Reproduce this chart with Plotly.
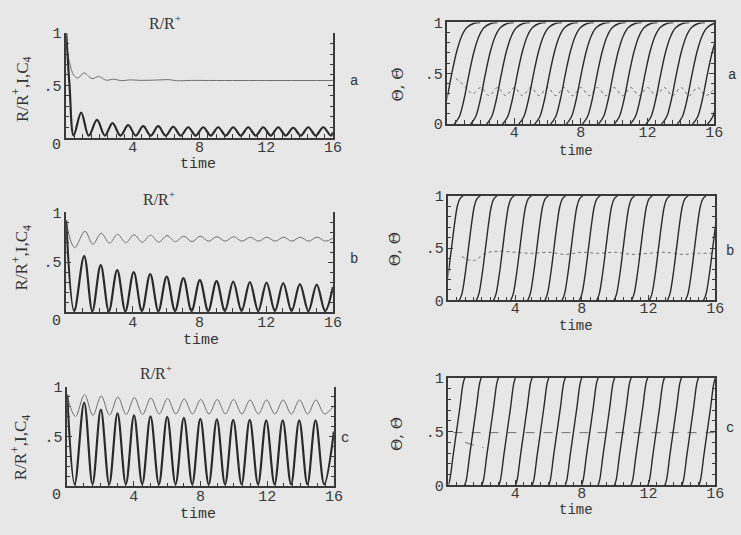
import plotly.graph_objects as go

# ---------------- data ----------------
time_ticks = [4, 8, 12, 16]
time_tick_text = ["4", "8", "12", "16"]

# Left column: normalised current I and C4 versus time, (t, value) samples
a_current = [(0.0, 1.0), (0.2, 0.5), (0.45, 0.02), (0.9, 0.24), (1.35, 0.02), (1.85, 0.17),
             (2.32, 0.02), (2.78, 0.14), (3.25, 0.02), (3.72, 0.12), (4.17, 0.02), (4.62, 0.11),
             (5.07, 0.02), (5.52, 0.11), (5.97, 0.02), (6.42, 0.105), (6.87, 0.02), (7.32, 0.10),
             (7.77, 0.02), (8.22, 0.10), (8.67, 0.02), (9.12, 0.10), (9.57, 0.02), (10.02, 0.10),
             (10.47, 0.02), (10.92, 0.10), (11.37, 0.02), (11.82, 0.10), (12.27, 0.02), (12.72, 0.10),
             (13.17, 0.02), (13.62, 0.095), (14.07, 0.02), (14.52, 0.10), (14.97, 0.02), (15.42, 0.10),
             (15.87, 0.02), (16.0, 0.05)]
a_c4 = [(0.0, 0.92), (0.2, 0.72), (0.45, 0.60), (0.7, 0.57), (1.07, 0.62), (1.55, 0.565),
        (1.95, 0.585), (2.4, 0.55), (2.85, 0.56), (3.3, 0.545), (3.8, 0.553), (4.5, 0.548),
        (5.5, 0.552), (6.2, 0.555), (6.6, 0.545), (7.5, 0.548), (9.0, 0.547), (11.0, 0.547),
        (13.0, 0.547), (16.0, 0.547)]

b_current = [(0.0, 0.92), (0.48, 0.01), (1.08, 0.56), (1.57, 0.01), (2.07, 0.47), (2.56, 0.01),
             (3.06, 0.42), (3.55, 0.01), (4.05, 0.40), (4.54, 0.01), (5.04, 0.38), (5.53, 0.01),
             (6.03, 0.355), (6.53, 0.01), (7.03, 0.34), (7.52, 0.01), (8.02, 0.32), (8.52, 0.01),
             (9.02, 0.31), (9.52, 0.01), (10.02, 0.305), (10.52, 0.01), (11.02, 0.30), (11.52, 0.01),
             (12.02, 0.295), (12.52, 0.01), (13.02, 0.29), (13.52, 0.01), (14.02, 0.28), (14.53, 0.01),
             (15.03, 0.275), (15.53, 0.01), (16.0, 0.25)]
b_c4 = [(0.0, 0.90), (0.5, 0.645), (1.12, 0.81), (1.6, 0.68), (2.1, 0.79), (2.6, 0.69),
        (3.08, 0.78), (3.57, 0.695), (4.07, 0.775), (4.56, 0.70), (5.06, 0.77), (5.55, 0.70),
        (6.05, 0.765), (6.55, 0.705), (7.05, 0.76), (7.55, 0.705), (8.04, 0.76), (8.54, 0.71),
        (9.04, 0.755), (9.54, 0.71), (10.04, 0.755), (10.54, 0.71), (11.04, 0.75), (11.54, 0.71),
        (12.04, 0.75), (12.54, 0.71), (13.04, 0.75), (13.54, 0.71), (14.04, 0.75), (14.54, 0.71),
        (15.05, 0.75), (15.55, 0.71), (16.0, 0.74)]

c_current = [(0.0, 0.92), (0.45, 0.02), (1.02, 0.84), (1.52, 0.02), (2.02, 0.77), (2.52, 0.02),
             (3.02, 0.73), (3.52, 0.02), (4.01, 0.71), (4.5, 0.02), (5.0, 0.70), (5.5, 0.02),
             (6.0, 0.695), (6.5, 0.02), (7.0, 0.685), (7.5, 0.02), (7.99, 0.675), (8.49, 0.02),
             (8.98, 0.67), (9.47, 0.02), (9.96, 0.665), (10.46, 0.02), (10.95, 0.665), (11.45, 0.02),
             (11.94, 0.66), (12.44, 0.02), (12.93, 0.66), (13.43, 0.02), (13.92, 0.66), (14.41, 0.02),
             (14.9, 0.66), (15.42, 0.02), (16.0, 0.55)]
c_c4 = [(0.0, 0.90), (0.5, 0.70), (1.04, 0.92), (1.54, 0.71), (2.04, 0.905), (2.54, 0.715),
        (3.04, 0.895), (3.54, 0.72), (4.03, 0.89), (4.52, 0.72), (5.02, 0.885), (5.52, 0.725),
        (6.02, 0.88), (6.52, 0.725), (7.02, 0.875), (7.52, 0.725), (8.01, 0.87), (8.51, 0.725),
        (9.0, 0.87), (9.49, 0.725), (9.98, 0.87), (10.48, 0.725), (10.97, 0.865), (11.47, 0.725),
        (11.96, 0.865), (12.46, 0.725), (12.95, 0.865), (13.45, 0.725), (13.94, 0.865),
        (14.43, 0.725), (14.92, 0.865), (15.44, 0.725), (16.0, 0.81)]

# Right column: phase rises. Times where each rise passes 0.5, and the rise shape (dt, value)
a_rise_mid = [0.26, 1.3, 2.28, 3.24, 4.2, 5.17, 6.13, 7.08, 8.03, 8.99, 9.95, 10.9,
              11.86, 12.8, 13.74, 14.68, 15.6, 16.5]
a_rise_shape = [(-0.9, 0.0), (-0.6, 0.07), (-0.3, 0.25), (0.0, 0.5), (0.3, 0.72),
                (0.6, 0.87), (0.9, 0.95), (1.3, 0.99), (1.7, 1.0)]
b_rise_mid = [0.18, 1.2, 2.22, 3.25, 4.28, 5.3, 6.33, 7.36, 8.4, 9.44, 10.48, 11.53,
              12.6, 13.68, 14.76, 15.85]
b_rise_shape = [(-0.55, 0.0), (-0.4, 0.06), (-0.2, 0.25), (0.0, 0.5), (0.2, 0.75),
                (0.35, 0.9), (0.5, 0.97), (0.7, 1.0)]
c_rise_mid = [0.48, 1.47, 2.5, 3.52, 4.52, 5.52, 6.51, 7.5, 8.48, 9.47, 10.46, 11.45,
              12.46, 13.48, 14.5, 15.52]
c_rise_shape = [(-0.5, 0.0), (-0.4, 0.05), (-0.2, 0.28), (0.0, 0.5), (0.2, 0.72),
                (0.4, 0.95), (0.5, 1.0)]

# Phase velocity (dotted / dashed)
a_rate = [(0.5, 0.45), (1.0, 0.38), (1.5, 0.30), (2.0, 0.36), (2.5, 0.28), (3.0, 0.36),
          (3.5, 0.28), (4.0, 0.36), (4.5, 0.28), (5.0, 0.36), (5.5, 0.28), (6.0, 0.36),
          (6.5, 0.28), (7.0, 0.36), (7.5, 0.28), (8.0, 0.36), (8.5, 0.28), (9.0, 0.36),
          (9.5, 0.28), (10.0, 0.36), (10.5, 0.28), (11.0, 0.36), (11.5, 0.28), (12.0, 0.36),
          (12.5, 0.28), (13.0, 0.36), (13.5, 0.28), (14.0, 0.36), (14.5, 0.28), (15.0, 0.36),
          (15.5, 0.28), (16.0, 0.35)]
b_rate = [(0.8, 0.42), (1.5, 0.38), (2.2, 0.45), (3.0, 0.47), (4.0, 0.46), (5.0, 0.45),
          (6.0, 0.46), (7.0, 0.44), (8.0, 0.46), (9.0, 0.45), (10.0, 0.46), (11.0, 0.44),
          (12.0, 0.45), (13.0, 0.46), (14.0, 0.44), (15.0, 0.45), (16.0, 0.45)]
c_rate = [(0.3, 0.49), (16.0, 0.49)]
c_rate_start = [(1.0, 0.40), (1.6, 0.37), (2.1, 0.35)]

# ---------------- figure ----------------
W, H = 741, 535
BG = "#e7e7e7"
INK = "#2a2a2a"
GREY = "#707070"
AXC = "#3a3a3a"
MONO = "Liberation Mono"
SERIF = "Liberation Serif"


def px(x):
    return x / W


def py(y):
    return 1 - y / H


# (x-left, x-right, y-top, y-bottom) in pixels, boxed frame?
panels = [
    (67, 337, 27, 135, False),
    (67, 337, 212, 315, False),
    (68, 338, 392, 495, False),
    (453, 723, 16, 121, True),
    (454, 724, 195, 303, True),
    (454, 724, 383, 494, True),
]

fig = go.Figure()
layout = {}
for i, (x0, x1, yt, yb, boxed) in enumerate(panels, start=1):
    s = "" if i == 1 else str(i)
    layout[f"xaxis{s}"] = dict(
        domain=[px(x0), px(x1)], range=[0, 16], anchor=f"y{s}",
        showgrid=False, zeroline=False, showline=True, linecolor=AXC, linewidth=1.5,
        mirror=True if boxed else False,
        ticks="inside", ticklen=6, tickwidth=1, tickcolor=AXC,
        tickvals=time_ticks, ticktext=time_tick_text, ticklabelstandoff=-7 if boxed else -5,
        tickfont=dict(family=MONO, size=15, color="#3a3a3a"),
        minor=dict(ticks="inside", ticklen=4, dtick=0.5, tickcolor=AXC, tickwidth=1),
        fixedrange=True,
    )
    yvals = [0, 0.5, 1] if boxed else [0.5, 1]
    ytext = ["0", ".5", "1"] if boxed else [".5", "1"]
    layout[f"yaxis{s}"] = dict(
        domain=[py(yb), py(yt)], range=[0, 1], anchor=f"x{s}",
        showgrid=False, zeroline=False, showline=True, linecolor=AXC, linewidth=1.5,
        mirror="ticks",
        ticks="inside", ticklen=5, tickwidth=1, tickcolor=AXC,
        tickvals=yvals, ticktext=ytext,
        tickfont=dict(family=MONO, size=15, color="#3a3a3a"),
        minor=dict(ticks="inside", ticklen=3, dtick=0.1, tickcolor=AXC, tickwidth=1),
        fixedrange=True,
    )


def axes(i):
    s = "" if i == 1 else str(i)
    return dict(xaxis=f"x{s}", yaxis=f"y{s}")


def add_curve(pts, i, color, width, dash="solid", shape="spline"):
    t, v = zip(*pts)
    fig.add_trace(go.Scatter(
        x=list(t), y=list(v), mode="lines", showlegend=False, hoverinfo="skip",
        line=dict(color=color, width=width, dash=dash, shape=shape, smoothing=1.0),
        **axes(i)))


# left column: C4 (thin) and I (heavy)
for i, (cur, c4) in enumerate([(a_current, a_c4), (b_current, b_c4), (c_current, c_c4)], start=1):
    add_curve(c4, i, GREY, 1.0)
    add_curve(cur, i, INK, 2.2)

# right column: rising phases plus the phase velocity
right = [
    (4, a_rise_mid, a_rise_shape, [(a_rate, "dot")]),
    (5, b_rise_mid, b_rise_shape, [(b_rate, "dot")]),
    (6, c_rise_mid, c_rise_shape, [(c_rate, "dash"), (c_rate_start, "dash")]),
]
for i, mids, shape, rates in right:
    for rate, dash in rates:
        add_curve(rate, i, GREY, 1.0, dash=dash, shape="spline")
    for m in mids:
        pts = [(m + dt, v) for dt, v in shape]
        add_curve(pts, i, INK, 1.4)

ann = []


def text(s, x, y, size, family, angle=0, xanchor="center"):
    ann.append(dict(text=s, x=px(x), y=py(y), xref="paper", yref="paper", showarrow=False,
                    xanchor=xanchor, yanchor="middle", textangle=angle,
                    font=dict(family=family, size=size, color="#333333")))


# panel titles, axis titles, panel letters
for (tx, ty), (lx, ly), (zx, zy), (mx, my), (letter, lpx, lpy) in [
    ((167, 15), (22, 85), (57, 143), (200, 163), ("a", 358, 76)),
    ((161, 197), (22, 259), (57, 325), (203, 344), ("b", 358, 260)),
    ((158, 377), (21, 455), (57, 505), (200, 524), ("c", 349, 445)),
]:
    text("R/R<sup>+</sup>", tx, ty, 16, SERIF)
    text("R/R<sup>+</sup>,I,C<sub>4</sub>", lx, ly, 17, SERIF, angle=-90)
    text("0", zx, zy, 15, MONO)
    text("time", mx, my, 15, MONO)
    text(letter, lpx, lpy, 14, MONO)

for (lx, ly), (mx, my), (letter, lpx, lpy) in [
    ((403, 80), (583, 149), ("a", 735, 70)),
    ((400, 250), (583, 329), ("b", 733, 252)),
    ((402, 441), (583, 519), ("c", 733, 435)),
]:
    text("\u0398, \u0398\u0307", lx, ly, 15, "DejaVu Serif", angle=-90)
    text("time", mx, my, 14, MONO)
    text(letter, lpx, lpy, 14, MONO, xanchor="left")

fig.update_layout(
    width=W, height=H, margin=dict(l=0, r=0, t=0, b=0),
    paper_bgcolor=BG, plot_bgcolor=BG, annotations=ann, **layout,
)

fig.write_html("out.html")
